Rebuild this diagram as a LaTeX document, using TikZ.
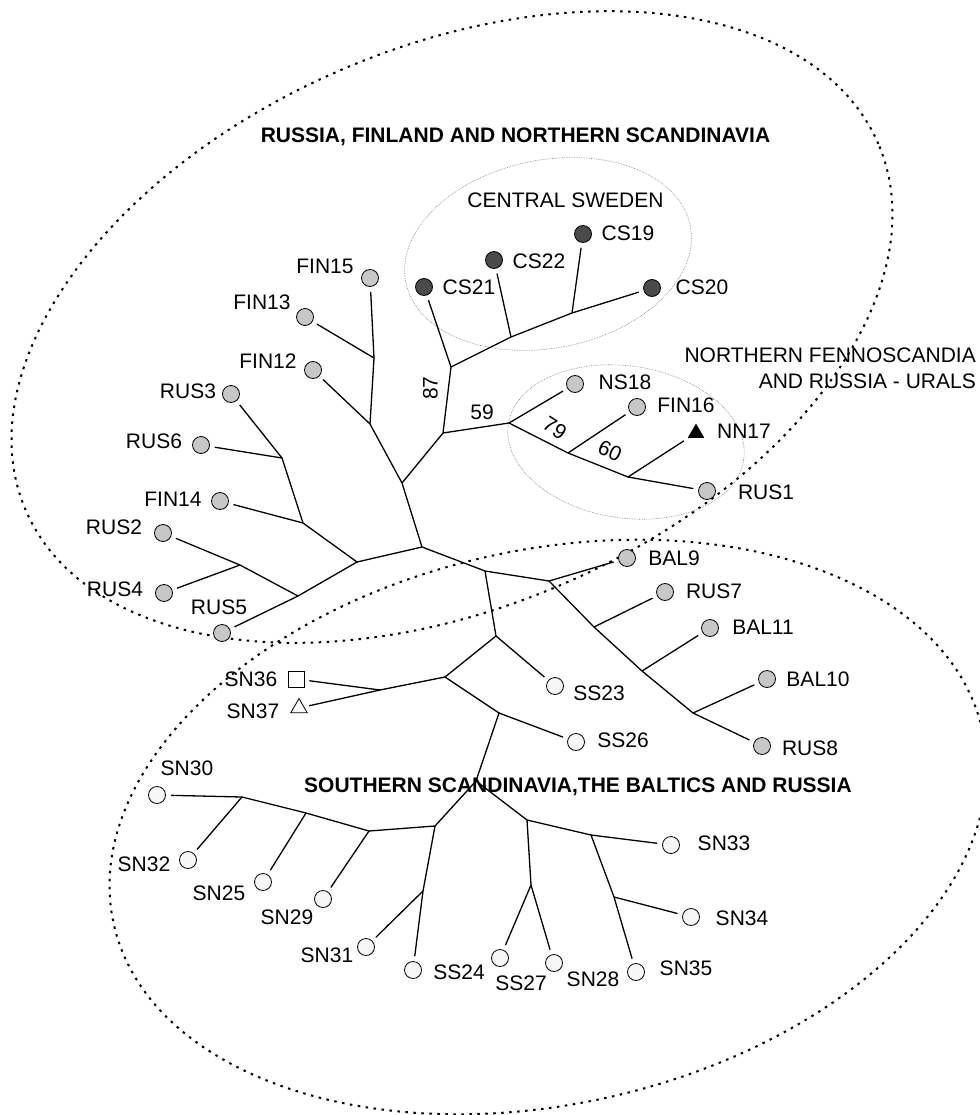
\documentclass[tikz,border=0pt]{standalone}
\usepackage{fontspec}
\setmainfont{Liberation Sans}
\usetikzlibrary{shapes.geometric}
\definecolor{lgray}{HTML}{C6C7C9}
\definecolor{dgray}{HTML}{4A4A4C}
\definecolor{wgray}{HTML}{F6F6F6}
\begin{document}
\begin{tikzpicture}[x=1pt,y=-1pt,
 br/.style={line width=1.3pt},
 lf/.style={br, shorten >=5pt},
 leaf/.style={circle, draw, line width=0.8pt, minimum size=17pt, inner sep=0pt},
 lg/.style={leaf, fill=lgray}, dg/.style={leaf, fill=dgray}, wg/.style={leaf, fill=wgray},
 lbl/.style={inner sep=0pt, font=\fontsize{21}{25}\selectfont, text height=15pt, text depth=0pt},
 blbl/.style={inner sep=0pt, font=\fontsize{21}{25}\selectfont\bfseries, text height=15pt, text depth=0pt},
 bigell/.style={line width=2pt, dash pattern=on 2.5pt off 5.5pt},
 smell/.style={line width=0.6pt, gray, dash pattern=on 0.7pt off 1pt},
 tri/.style={regular polygon, regular polygon sides=3, minimum size=19pt, inner sep=0pt, line width=0.8pt},
 sq/.style={rectangle, draw, minimum size=16pt, inner sep=0pt, line width=0.8pt}]
\useasboundingbox (0,0) rectangle (979,1115);

% region ellipses
\draw[bigell, rotate around={23.25:(452,327)}] (452,327) ellipse [x radius=464pt, y radius=280pt];
\draw[bigell, rotate around={12.6:(548,827)}] (548,827) ellipse [x radius=445pt, y radius=277pt];
\draw[smell, rotate around={11.2:(548,254)}] (548,254) ellipse [x radius=145pt, y radius=94pt];
\draw[smell, rotate around={-8.6:(626,442)}] (626,442) ellipse [x radius=119pt, y radius=76pt];

% internal nodes
\coordinate (a1) at (374,358); \coordinate (a2) at (370,424);
\coordinate (a3) at (402,483); \coordinate (a4) at (422,547);
\coordinate (b1) at (443,433); \coordinate (b2) at (451,367);
\coordinate (m1) at (511,337); \coordinate (m2) at (572,313);
\coordinate (n1) at (509,423); \coordinate (n2) at (568,453); \coordinate (n3) at (628,477);
\coordinate (c1) at (282,458); \coordinate (c2) at (303,523); \coordinate (c3) at (357,562);
\coordinate (c4) at (298,596); \coordinate (c5) at (240,565);
\coordinate (d1) at (485,571); \coordinate (d2) at (549,581);
\coordinate (e1) at (594,627); \coordinate (e2) at (642,671); \coordinate (e3) at (693,713);
\coordinate (f1) at (496,636); \coordinate (f2) at (445,677); \coordinate (f3) at (499,713);
\coordinate (f4) at (476,781);
\coordinate (g1) at (380,690);
\coordinate (h1) at (435,826); \coordinate (h2) at (527,820);
\coordinate (i1) at (369,831); \coordinate (i2) at (306,813); \coordinate (i3) at (242,797);
\coordinate (j1) at (423,891);
\coordinate (k1) at (591,835); \coordinate (k2) at (614,897);
\coordinate (l1) at (531,885);

% leaves
\node[lg] (FIN15) at (370,278) {};
\node[lg] (FIN13) at (305,317) {};
\node[lg] (FIN12) at (313,370) {};
\node[lg] (RUS3) at (231,394) {};
\node[lg] (RUS6) at (201,445) {};
\node[lg] (FIN14) at (220,501) {};
\node[lg] (RUS2) at (163,533) {};
\node[lg] (RUS4) at (164,593) {};
\node[lg] (RUS5) at (222,633) {};
\node[dg] (CS21) at (424,287) {};
\node[dg] (CS22) at (494,260) {};
\node[dg] (CS19) at (583,234) {};
\node[dg] (CS20) at (652,288) {};
\node[lg] (NS18) at (575,384) {};
\node[lg] (FIN16) at (637,407) {};
\node[tri, fill=black] (NN17) at (696,433) {};
\node[lg] (RUS1) at (707,491) {};
\node[lg] (BAL9) at (627,558) {};
\node[lg] (RUS7) at (665,592) {};
\node[lg] (BAL11) at (710,628) {};
\node[lg] (BAL10) at (767,679) {};
\node[lg] (RUS8) at (762,746) {};
\node[wg] (SS23) at (555,686) {};
\node[wg] (SS26) at (576,742) {};
\node[sq] (SN36) at (296,679) {};
\node[tri, draw] (SN37) at (299,708) {};
\node[wg] (SN30) at (157,795) {};
\node[wg] (SN32) at (188,860) {};
\node[wg] (SN25) at (263,882) {};
\node[wg] (SN29) at (323,899) {};
\node[wg] (SN31) at (366,947) {};
\node[wg] (SS24) at (413,970) {};
\node[wg] (SN33) at (671,845) {};
\node[wg] (SN34) at (691,917) {};
\node[wg] (SN35) at (636,972) {};
\node[wg] (SS27) at (500,958) {};
\node[wg] (SN28) at (554,963) {};

% branches
\draw[br] (a1) -- (a2) -- (a3) -- (a4);
\draw[lf] (a1) -- (FIN15);
\draw[lf] (a1) -- (FIN13);
\draw[lf] (a2) -- (FIN12);
\draw[br] (a3) -- (b1) -- (b2);
\draw[lf] (b2) -- (CS21);
\draw[br] (b2) -- (m1) -- (m2);
\draw[lf] (m1) -- (CS22);
\draw[lf] (m2) -- (CS19);
\draw[lf] (m2) -- (CS20);
\draw[br] (b1) -- (n1) -- (n2) -- (n3);
\draw[lf] (n1) -- (NS18);
\draw[lf] (n2) -- (FIN16);
\draw[lf] (n3) -- (NN17);
\draw[lf] (n3) -- (RUS1);
\draw[br] (a4) -- (c3) -- (c2) -- (c1);
\draw[lf] (c1) -- (RUS3);
\draw[lf] (c1) -- (RUS6);
\draw[lf] (c2) -- (FIN14);
\draw[br] (c3) -- (c4) -- (c5);
\draw[lf] (c4) -- (RUS5);
\draw[lf] (c5) -- (RUS2);
\draw[lf] (c5) -- (RUS4);
\draw[br] (a4) -- (d1) -- (d2) -- (e1) -- (e2) -- (e3);
\draw[lf] (d2) -- (BAL9);
\draw[lf] (e1) -- (RUS7);
\draw[lf] (e2) -- (BAL11);
\draw[lf] (e3) -- (BAL10);
\draw[lf] (e3) -- (RUS8);
\draw[br] (d1) -- (f1) -- (f2) -- (f3) -- (f4);
\draw[lf] (f1) -- (SS23);
\draw[lf] (f3) -- (SS26);
\draw[br] (f2) -- (g1);
\draw[lf] (g1) -- (SN36);
\draw[lf] (g1) -- (SN37);
\draw[br] (f4) -- (h1) -- (i1) -- (i2) -- (i3);
\draw[lf] (i1) -- (SN29);
\draw[lf] (i2) -- (SN25);
\draw[lf] (i3) -- (SN32);
\draw[lf] (i3) -- (SN30);
\draw[br] (h1) -- (j1);
\draw[lf] (j1) -- (SN31);
\draw[lf] (j1) -- (SS24);
\draw[br] (f4) -- (h2) -- (k1) -- (k2);
\draw[lf] (k1) -- (SN33);
\draw[lf] (k2) -- (SN34);
\draw[lf] (k2) -- (SN35);
\draw[br] (h2) -- (l1);
\draw[lf] (l1) -- (SS27);
\draw[lf] (l1) -- (SN28);

% leaf labels
\node[lbl] (tFIN15) at (325,266) {FIN15};
\node[lbl] (tFIN13) at (262,302) {FIN13};
\node[lbl] (tFIN12) at (268,361) {FIN12};
\node[lbl] (tRUS3) at (188,391) {RUS3};
\node[lbl] (tRUS6) at (154,441) {RUS6};
\node[lbl] (tFIN14) at (173,499) {FIN14};
\node[lbl] (tRUS2) at (114,527) {RUS2};
\node[lbl] (tRUS4) at (115,589) {RUS4};
\node[lbl] (tRUS5) at (219,607) {RUS5};
\node[lbl] (tCS21) at (469,287) {CS21};
\node[lbl] (tCS22) at (539,261) {CS22};
\node[lbl] (tCS19) at (628,233) {CS19};
\node[lbl] (tCS20) at (702,287) {CS20};
\node[lbl] (tNS18) at (625,382) {NS18};
\node[lbl] (tFIN16) at (686,405) {FIN16};
\node[lbl] (tNN17) at (744,431) {NN17};
\node[lbl] (tRUS1) at (766,492) {RUS1};
\node[lbl] (tBAL9) at (674,558) {BAL9};
\node[lbl] (tRUS7) at (714,591) {RUS7};
\node[lbl] (tBAL11) at (763,627) {BAL11};
\node[lbl] (tBAL10) at (818,679) {BAL10};
\node[lbl] (tRUS8) at (810,748) {RUS8};
\node[lbl] (tSS23) at (599,693) {SS23};
\node[lbl] (tSS26) at (623,740) {SS26};
\node[lbl] (tSN36) at (251,679) {SN36};
\node[lbl] (tSN37) at (253,711) {SN37};
\node[lbl] (tSN30) at (187,768) {SN30};
\node[lbl] (tSN32) at (144,864) {SN32};
\node[lbl] (tSN25) at (219,893) {SN25};
\node[lbl] (tSN29) at (287,917) {SN29};
\node[lbl] (tSN31) at (327,955) {SN31};
\node[lbl] (tSS24) at (459,972) {SS24};
\node[lbl] (tSN33) at (724,843) {SN33};
\node[lbl] (tSN34) at (742,918) {SN34};
\node[lbl] (tSN35) at (686,968) {SN35};
\node[lbl] (tSS27) at (521,983) {SS27};
\node[lbl] (tSN28) at (593,979) {SN28};

% support values
\node[lbl, rotate=90] (v87) at (430,388) {87};
\node[lbl] (v59) at (482,412) {59};
\node[lbl, rotate=-33] (v79) at (555,428) {79};
\node[lbl, rotate=-25] (v60) at (610,451) {60};

% group labels
\node[blbl] (gNorth) at (515.5,135) {RUSSIA, FINLAND AND NORTHERN SCANDINAVIA};
\node[blbl] (gSouth) at (578,785) {SOUTHERN SCANDINAVIA,THE BALTICS AND RUSSIA};
\node[lbl] (gCS) at (565.5,200) {CENTRAL SWEDEN};
\node[lbl, anchor=east] (gNF1) at (976,355) {NORTHERN FENNOSCANDIA};
\node[lbl, anchor=east] (gNF2) at (976,381) {AND RUSSIA - URALS};
\end{tikzpicture}
\end{document}
